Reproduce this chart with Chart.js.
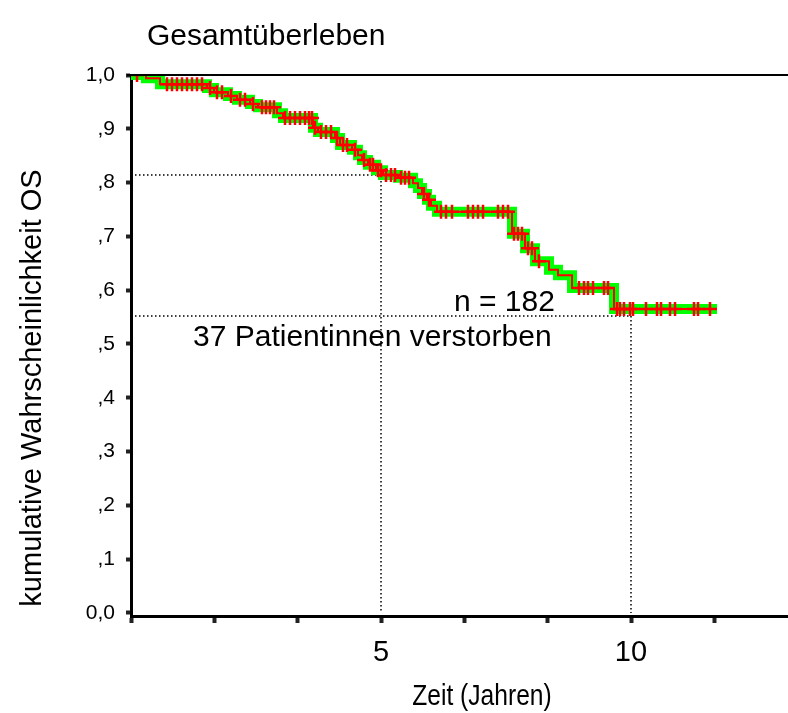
<!DOCTYPE html>
<html>
<head>
<meta charset="utf-8">
<script src="https://cdn.jsdelivr.net/npm/chart.js@4.4.1/dist/chart.umd.min.js"></script>
<style>
  html, body { margin: 0; padding: 0; background: #fff; }
</style>
</head>
<body>
<canvas id="km-chart" width="788" height="713"></canvas>
<script>
// Kaplan-Meier Gesamtüberleben
const eventTimes = [0.30, 0.58, 1.52, 1.66, 1.94, 2.12, 2.38, 2.54, 2.92, 3.04, 3.64, 3.74, 4.08, 4.18,
    4.42, 4.54, 4.62, 4.74, 4.90, 5.04, 5.34, 5.64, 5.74, 5.82, 5.92, 6.00, 6.12, 7.62, 7.88, 8.08,
    8.36, 8.54, 8.82, 9.66];
const eventSurv = [0.994, 0.983, 0.976, 0.968, 0.961, 0.954, 0.946, 0.940, 0.929, 0.920, 0.902, 0.894,
    0.883, 0.870, 0.861, 0.851, 0.842, 0.833, 0.823, 0.814, 0.809, 0.799, 0.790, 0.779, 0.768, 0.757,
    0.746, 0.705, 0.678, 0.654, 0.638, 0.628, 0.604, 0.565];
const endTime = 11.72;

// zensierte Fälle (Zeitpunkte in Jahren)
const censorTimes = [0.12, 0.72, 0.82, 0.92, 1.02, 1.12, 1.22, 1.32, 1.42, 1.58, 1.72, 1.82, 2.00, 2.18,
    2.28, 2.44, 2.62, 2.70, 2.78, 2.86, 3.08, 3.18, 3.28, 3.38, 3.48, 3.56, 3.62, 3.68, 3.80, 3.90,
    4.00, 4.12, 4.24, 4.32, 4.48, 4.66, 4.78, 4.84, 4.94, 5.00, 5.10, 5.20, 5.28, 5.40, 5.48, 5.56,
    5.86, 5.96, 6.20, 6.30, 6.42, 6.74, 6.84, 6.94, 7.04, 7.34, 7.44, 7.54, 7.66, 7.74, 7.82, 7.94,
    8.02, 8.16, 8.96, 9.06, 9.14, 9.24, 9.46, 9.54, 9.72, 9.78, 9.86, 9.98, 10.04, 10.30, 10.52,
    10.60, 10.78, 10.88, 11.26, 11.34, 11.58];

// Hilfslinien bei 5 und 10 Jahren
const refTimes = [5, 10];
const refSurv = [0.814, 0.552];

const yTicks = [0, 0.1, 0.2, 0.3, 0.4, 0.5, 0.6, 0.7, 0.8, 0.9, 1.0];
const yTickLabels = ['0,0', ',1', ',2', ',3', ',4', ',5', ',6', ',7', ',8', ',9', '1,0'];
const xTicks = [0, 1.667, 3.333, 5, 6.667, 8.333, 10, 11.667];
const xTickLabels = ['', '', '', '5', '', '', '10', ''];

const FONT = "'Liberation Sans', Arial, sans-serif";

// Stufenfunktion aufbauen
function survAt(t) {
    let s = 1;
    for (let i = 0; i < eventTimes.length; i++) {
        if (eventTimes[i] <= t) s = eventSurv[i];
    }
    return s;
}

const stepData = [{ x: 0, y: 1 }];
eventTimes.forEach(function (t, i) {
    stepData.push({ x: t, y: eventSurv[i] });
});
stepData.push({ x: endTime, y: eventSurv[eventSurv.length - 1] });

const censorData = censorTimes.map(function (t) {
    return { x: t, y: survAt(t) };
});

const refDatasets = refTimes.map(function (t, i) {
    return {
        data: [{ x: 0, y: refSurv[i] }, { x: t, y: refSurv[i] }, { x: t, y: 0 }],
        showLine: true,
        borderColor: '#000',
        borderWidth: 1.5,
        borderDash: [1.5, 2.5],
        pointRadius: 0,
        fill: false
    };
});

// Texte und oberer Rahmen
const textPlugin = {
    id: 'textPlugin',
    afterDraw: function (chart) {
        const ctx = chart.ctx;
        const area = chart.chartArea;
        const xs = chart.scales.x;
        const ys = chart.scales.y;
        ctx.save();

        ctx.strokeStyle = '#000';
        ctx.lineWidth = 2;
        ctx.beginPath();
        ctx.moveTo(area.left - 4, area.top);
        ctx.lineTo(area.right, area.top);
        ctx.stroke();

        ctx.fillStyle = '#000';
        ctx.textBaseline = 'alphabetic';
        ctx.textAlign = 'left';
        ctx.font = '30px ' + FONT;
        ctx.fillText('Gesamtüberleben', 147, 45);

        ctx.fillText('n = 182', xs.getPixelForValue(6.46), ys.getPixelForValue(0.562));
        ctx.fillText('37 Patientinnen verstorben', xs.getPixelForValue(1.24), ys.getPixelForValue(0.497));

        // Achsentitel x, schmal gesetzt wie im Original
        ctx.save();
        ctx.textAlign = 'center';
        ctx.translate(482, 705);
        ctx.scale(0.82, 1);
        ctx.fillText('Zeit (Jahren)', 0, 0);
        ctx.restore();

        ctx.font = '29px ' + FONT;
        ctx.textAlign = 'center';
        ctx.translate(41, 388);
        ctx.rotate(-Math.PI / 2);
        ctx.fillText('kumulative Wahrscheinlichkeit OS', 0, 0);
        ctx.restore();
    }
};

const ctx = document.getElementById('km-chart').getContext('2d');
const kmChart = new Chart(ctx, {
    type: 'scatter',
    data: {
        // erster Datensatz liegt oben
        datasets: [
            {
                data: censorData,
                showLine: false,
                pointStyle: 'cross',
                pointRadius: 7,
                borderColor: '#ff0000',
                borderWidth: 2.5,
                backgroundColor: '#ff0000'
            },
            {
                data: stepData,
                showLine: true,
                stepped: 'before',
                borderColor: '#ff0000',
                borderWidth: 2,
                pointRadius: 0,
                fill: false
            },
            {
                data: stepData,
                showLine: true,
                stepped: 'before',
                borderColor: '#00ff00',
                borderWidth: 10,
                pointRadius: 0,
                fill: false
            }
        ].concat(refDatasets)
    },
    options: {
        responsive: false,
        animation: false,
        layout: {
            autoPadding: false,
            padding: { top: 75, right: 0, bottom: 0, left: 0 }
        },
        plugins: {
            legend: { display: false },
            tooltip: { enabled: false },
            title: { display: false }
        },
        scales: {
            x: {
                type: 'linear',
                min: 0,
                max: 13.14,
                afterBuildTicks: function (scale) {
                    scale.ticks = xTicks.map(function (v) { return { value: v }; });
                },
                afterFit: function (scale) {
                    scale.height = 97;
                },
                grid: {
                    drawOnChartArea: false,
                    drawTicks: true,
                    tickLength: 7,
                    tickWidth: 4,
                    tickColor: '#222'
                },
                border: { color: '#000', width: 3 },
                ticks: {
                    autoSkip: false,
                    maxRotation: 0,
                    padding: 13,
                    color: '#000',
                    font: { family: FONT, size: 29 },
                    callback: function (value, index) {
                        return xTickLabels[index];
                    }
                }
            },
            y: {
                min: -0.0056,
                max: 1,
                afterBuildTicks: function (scale) {
                    scale.ticks = yTicks.map(function (v) { return { value: v }; });
                },
                afterFit: function (scale) {
                    scale.width = 131;
                },
                grid: {
                    drawOnChartArea: false,
                    drawTicks: true,
                    tickLength: 5,
                    tickWidth: 4,
                    tickColor: '#222'
                },
                border: { color: '#000', width: 3 },
                ticks: {
                    padding: 11,
                    color: '#000',
                    font: { family: FONT, size: 21 },
                    callback: function (value, index) {
                        return yTickLabels[index];
                    }
                }
            }
        }
    },
    plugins: [textPlugin]
});
</script>
</body>
</html>
